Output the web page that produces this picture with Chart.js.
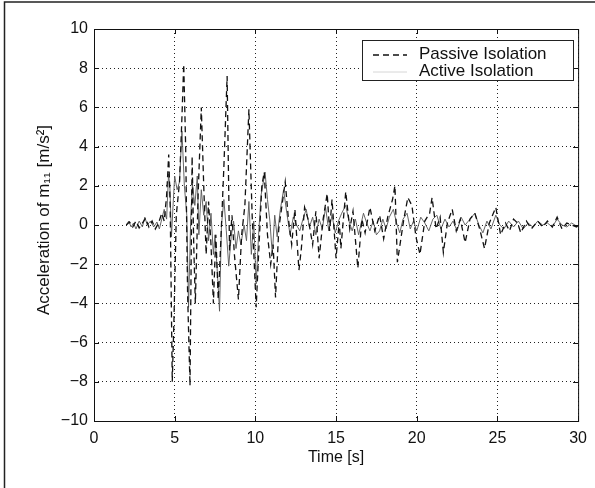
<!DOCTYPE html>
<html>
<head>
<meta charset="utf-8">
<script src="https://cdn.jsdelivr.net/npm/chart.js@4"></script>
<style>
  html, body { margin: 0; padding: 0; background: #fff; }
  #wrap { position: relative; width: 595px; height: 488px; }
</style>
</head>
<body>
<div id="wrap"><canvas id="myChart" width="595" height="488"></canvas></div>
<script>
// passive isolation (dashed)
const tPassive = [2.0,2.2,2.4,2.6,2.8,3.0,3.2,3.4,3.6,3.8,4.0,4.2,4.35,4.5,4.63,4.72,4.85,4.95,5.1,5.3,5.45,5.56,5.68,5.8,5.95,6.08,6.18,6.28,6.45,6.65,6.8,6.95,7.1,7.25,7.4,7.55,7.7,7.85,8.05,8.25,8.4,8.55,8.7,8.95,9.15,9.35,9.6,9.8,10.05,10.2,10.4,10.55,10.75,10.95,11.1,11.25,11.45,11.65,11.85,12.05,12.25,12.45,12.7,12.85,13.05,13.3,13.55,13.75,13.95,14.2,14.45,14.6,14.75,15.0,15.2,15.3,15.6,15.85,16.05,16.35,16.6,16.8,17.1,17.4,17.7,17.95,18.2,18.5,18.65,18.8,19.0,19.2,19.45,19.7,19.95,20.2,20.5,20.8,20.95,21.2,21.45,21.65,21.9,22.2,22.45,22.7,23.0,23.3,23.6,23.9,24.2,24.5,24.9,25.2,25.5,25.75,26.0,26.25,26.45,26.8,27.1,27.5,27.8,28.1,28.4,28.7,29.0,29.3,29.6,29.9,30.0]
const vPassive = [0.0,0.15,-0.1,0.2,-0.15,0.1,0.35,-0.1,0.2,-0.2,0.1,0.6,0.2,1.5,3.6,1.0,-8.0,-5.0,0.5,2.2,5.5,8.2,4.0,-3.5,-8.2,3.5,-1.0,-4.0,1.5,6.0,2.0,-1.5,1.2,-1.0,-4.0,-0.5,-3.8,-1.0,3.0,7.6,-1.3,0.5,-1.5,-3.8,-0.5,1.0,5.9,0.5,-4.2,-1.5,2.0,2.7,-0.5,-2.0,-1.0,-3.7,-0.2,1.0,2.2,0.3,-1.0,0.8,-2.3,-1.2,0.9,0.2,-1.0,0.7,-1.7,0.3,1.6,-0.3,1.3,-1.7,0.2,-1.2,1.7,-0.2,0.7,-2.2,0.3,-0.4,0.9,-0.3,0.5,-0.7,0.4,1.3,2.0,-1.9,-0.8,0.3,1.4,1.0,-0.6,-1.5,0.2,0.6,1.4,-0.2,0.4,-1.4,0.1,0.8,-0.3,0.3,-0.9,0.3,0.6,-0.2,-1.2,0.1,0.9,-0.5,0.1,-0.3,0.3,0.1,-0.4,0.2,-0.2,0.2,-0.1,0.2,-0.1,0.4,-0.2,0.1,0.0,-0.1,0.0]

// active isolation (solid)
const tActive = [2.0,2.15,2.3,2.45,2.6,2.8,3.0,3.15,3.3,3.5,3.7,3.9,4.05,4.2,4.35,4.5,4.62,4.7,4.8,4.9,5.0,5.15,5.3,5.45,5.6,5.75,5.86,6.0,6.1,6.25,6.4,6.5,6.65,6.8,6.95,7.1,7.25,7.4,7.5,7.65,7.78,7.9,8.05,8.2,8.35,8.5,8.65,8.8,8.95,9.1,9.3,9.45,9.6,9.75,9.9,10.05,10.2,10.35,10.6,10.75,10.9,11.05,11.2,11.35,11.55,11.75,11.95,12.15,12.35,12.55,12.75,12.95,13.15,13.35,13.55,13.75,13.95,14.15,14.35,14.55,14.75,14.95,15.15,15.35,15.6,15.8,16.0,16.2,16.4,16.7,16.9,17.1,17.3,17.5,17.7,17.9,18.1,18.3,18.55,18.75,18.95,19.15,19.4,19.6,19.8,20.0,20.25,20.5,20.75,21.0,21.25,21.5,21.75,22.0,22.25,22.5,22.75,23.0,23.3,23.6,23.85,24.1,24.35,24.6,24.9,25.15,25.4,25.7,26.0,26.3,26.6,26.9,27.2,27.5,27.8,28.1,28.4,28.7,29.0,29.3,29.6,30.0]
const vActive = [0.0,0.2,-0.1,0.1,-0.2,0.2,-0.1,0.4,0.0,0.2,-0.1,0.15,-0.2,0.3,0.8,0.3,2.6,2.0,-0.6,1.0,2.5,1.8,2.2,4.8,2.0,0.5,-4.2,0.5,2.1,1.0,2.5,-0.5,1.8,0.5,1.2,-0.8,0.6,-1.5,-0.5,-2.5,-4.4,0.0,1.3,-0.3,-2.1,-0.6,0.2,-1.2,-0.3,-1.0,0.0,-0.8,1.2,-1.5,0.2,-3.0,-0.5,1.5,2.7,1.3,0.2,-1.5,0.5,-0.6,0.8,1.8,0.6,-0.5,0.4,0.0,-0.3,0.3,0.8,-0.1,0.4,-0.5,0.3,-0.2,0.9,-0.3,0.5,-0.4,0.2,0.6,1.0,0.2,-0.3,0.3,-0.5,0.6,0.1,-0.3,0.2,-0.5,-0.3,0.3,-0.2,0.4,0.8,0.1,-0.4,0.3,0.6,-0.2,0.2,-0.3,0.4,0.1,-0.3,0.3,0.5,-0.2,0.3,-0.1,0.2,-0.3,0.4,0.0,0.3,0.6,0.0,-0.4,0.2,-0.2,0.5,0.0,-0.2,0.2,-0.1,0.2,-0.2,0.1,-0.1,0.2,0.0,0.1,-0.1,0.3,0.0,-0.1,0.1,-0.1]

const xTicks = [0, 5, 10, 15, 20, 25, 30]
const yTicks = [-10, -8, -6, -4, -2, 0, 2, 4, 6, 8, 10]
const seriesNames = ['Passive Isolation', 'Active Isolation']
const xTitle = 'Time [s]'
const yTitle = 'Acceleration of m\u2081\u2081 [m/s\u00b2]'

const FONT = "'Liberation Sans', Arial, Helvetica, sans-serif"
const toPoints = (ts, vs) => ts.map((t, i) => ({ x: t, y: vs[i] }))

// frame, inward ticks, axis titles, legend and page border
const decor = {
  id: 'decor',
  afterDraw(chart) {
    const ctx = chart.ctx
    const a = chart.chartArea
    const xs = chart.scales.x
    const ys = chart.scales.y
    ctx.save()
    // page border (left and top)
    ctx.strokeStyle = '#222'
    ctx.lineWidth = 1.5
    ctx.beginPath()
    ctx.moveTo(4.5, 488); ctx.lineTo(4.5, 2); ctx.lineTo(595, 2)
    ctx.stroke()
    // axes box
    ctx.lineWidth = 1
    ctx.strokeStyle = '#111'
    ctx.strokeRect(a.left + 0.5, a.top + 0.5, a.right - a.left, a.bottom - a.top)
    // inward ticks
    ctx.beginPath()
    xTicks.forEach(v => {
      const px = Math.round(xs.getPixelForValue(v)) + 0.5
      ctx.moveTo(px, a.bottom); ctx.lineTo(px, a.bottom - 5)
      ctx.moveTo(px, a.top); ctx.lineTo(px, a.top + 5)
    })
    yTicks.forEach(v => {
      const py = Math.round(ys.getPixelForValue(v)) + 0.5
      ctx.moveTo(a.left, py); ctx.lineTo(a.left + 5, py)
      ctx.moveTo(a.right, py); ctx.lineTo(a.right - 5, py)
    })
    ctx.stroke()
    // axis titles
    ctx.fillStyle = '#111'
    ctx.font = '16px ' + FONT
    ctx.textAlign = 'center'
    ctx.textBaseline = 'middle'
    ctx.fillText(xTitle, (a.left + a.right) / 2, 458)
    ctx.save()
    ctx.translate(44, 220)
    ctx.rotate(-Math.PI / 2)
    ctx.font = '17px ' + FONT
    ctx.fillText(yTitle, 0, 0)
    ctx.restore()
    // legend
    const bx = 362, by = 40, bw = 211, bh = 40
    ctx.fillStyle = '#fff'
    ctx.fillRect(bx, by, bw, bh)
    ctx.lineWidth = 1
    ctx.strokeStyle = '#222'
    ctx.strokeRect(bx + 0.5, by + 0.5, bw, bh)
    ctx.lineWidth = 1.3
    ctx.setLineDash([6, 4])
    ctx.strokeStyle = '#111'
    ctx.beginPath(); ctx.moveTo(373, 55); ctx.lineTo(407, 55); ctx.stroke()
    ctx.setLineDash([])
    ctx.lineWidth = 0.8
    ctx.strokeStyle = '#ccc'
    ctx.beginPath(); ctx.moveTo(373, 72); ctx.lineTo(407, 72); ctx.stroke()
    ctx.fillStyle = '#111'
    ctx.font = '17px ' + FONT
    ctx.textAlign = 'left'
    ctx.fillText(seriesNames[0], 419, 54)
    ctx.fillText(seriesNames[1], 419, 71)
    ctx.restore()
  }
}

const config = {
  type: 'line',
  data: {
    datasets: [{
      label: seriesNames[0],
      data: toPoints(tPassive, vPassive),
      borderColor: '#111',
      borderWidth: 1.3,
      borderDash: [6, 4],
      pointRadius: 0,
      tension: 0,
      order: 0
    }, {
      label: seriesNames[1],
      data: toPoints(tActive, vActive),
      borderColor: '#555',
      borderWidth: 0.9,
      pointRadius: 0,
      tension: 0,
      order: 1
    }]
  },
  options: {
    responsive: false,
    animation: false,
    layout: { padding: { left: 0, top: 29, right: 10, bottom: 0 } },
    plugins: { legend: { display: false }, tooltip: { enabled: false } },
    scales: {
      x: {
        type: 'linear',
        min: 0, max: 30,
        afterBuildTicks: s => { s.ticks = xTicks.map(v => ({ value: v })) },
        afterFit: s => { s.height = 67 },
        grid: { color: '#222', lineWidth: 1, drawTicks: false },
        border: { display: false, dash: [1, 3] },
        ticks: { color: '#111', font: { family: FONT, size: 16 }, padding: 8, maxRotation: 0 }
      },
      y: {
        min: -10, max: 10,
        afterBuildTicks: s => { s.ticks = yTicks.map(v => ({ value: v })) },
        afterFit: s => { s.width = 94 },
        grid: { color: '#222', lineWidth: 1, drawTicks: false },
        border: { display: false, dash: [1, 3] },
        ticks: {
          color: '#111', font: { family: FONT, size: 16 }, padding: 6,
          callback: v => String(v).replace('-', '\u2212')
        }
      }
    }
  },
  plugins: [decor]
}

const grafico = new Chart(document.getElementById('myChart'), config)
</script>
</body>
</html>
